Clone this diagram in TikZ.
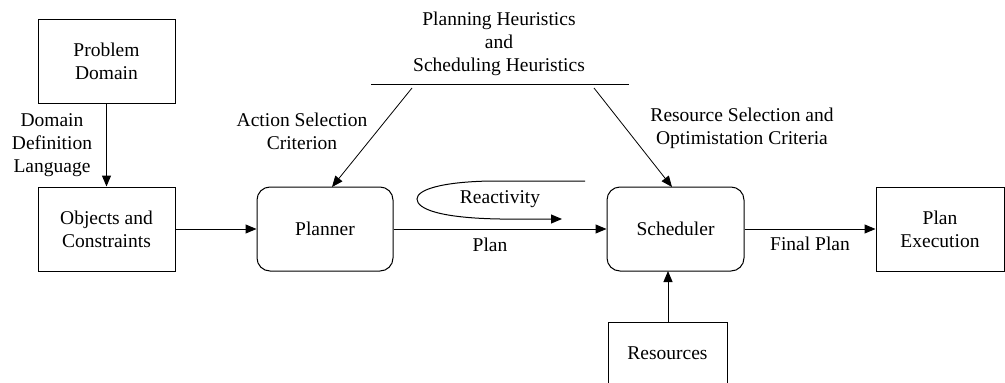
\documentclass[tikz,border=0pt]{standalone}
\usepackage{fontspec}
\setmainfont{Liberation Serif}
\newfontfamily\tms{Liberation Serif}
\usetikzlibrary{arrows.meta}
\begin{document}
\begin{tikzpicture}[x=1pt,y=-1pt,
  every node/.style={font=\tms\fontsize{19.5}{23}\selectfont, align=center, inner sep=0pt},
  sqbox/.style={draw, line width=1pt, minimum height=84pt},
  rbox/.style={draw, line width=1pt, minimum height=84pt, rounded corners=13pt},
  conn/.style={line width=1pt, -{Triangle[length=11pt,width=9pt]}},
  thin/.style={line width=0.8pt, -{Triangle[length=11pt,width=9pt]}}]
\useasboundingbox (0,0) rectangle (1005,383);
\node[sqbox, minimum width=137pt] (pd) at (106.5,61) {Problem\\Domain};
\node[sqbox, minimum width=137pt] (oc) at (106.5,229) {Objects and\\Constraints};
\node[rbox, minimum width=136pt] (pl) at (325,229) {Planner};
\node[rbox, minimum width=137pt] (sc) at (675.5,229) {Scheduler};
\node[sqbox, minimum width=128pt] (pe) at (940,229) {Plan\\Execution};
\node[sqbox, minimum width=119pt, minimum height=62pt] (rs) at (667.5,353) {Resources};
\node (heur) at (499,44) {Planning Heuristics\\and\\Scheduling Heuristics};
\coordinate (hl) at (371,84);
\coordinate (hr) at (629,84);
\draw[line width=1pt] (hl) -- (hr);
\coordinate (dl) at (412,88);
\coordinate (dr) at (594,88);
\node (dd) at (52,145) {Domain\\Definition\\Language};
\node (asc) at (302,131) {Action Selection\\Criterion};
\node (rsc) at (742,128.5) {Resource Selection and\\Optimistation Criteria};
\node (plan) at (490,245) {Plan};
\node (fp) at (810,244) {Final Plan};
\node (re) at (500,199) {Reactivity};
\draw[conn] (pd) -- (oc);
\draw[conn] (oc) -- (pl);
\draw[conn] (pl) -- (sc);
\draw[conn] (sc) -- (pe);
\draw[conn] (rs.north -| 668,0) -- (668,271);
\draw[thin] (dl) -- (332,187);
\draw[thin] (dr) -- (672,187);
\coordinate (rs0) at (585,181);
\coordinate (re1) at (562,219);
\draw[conn] (rs0) -- (490,181) .. controls (440,182) and (417,190) .. (417,199)
  .. controls (417,209) and (440,218) .. (500,219) -- (re1);
\end{tikzpicture}
\end{document}
